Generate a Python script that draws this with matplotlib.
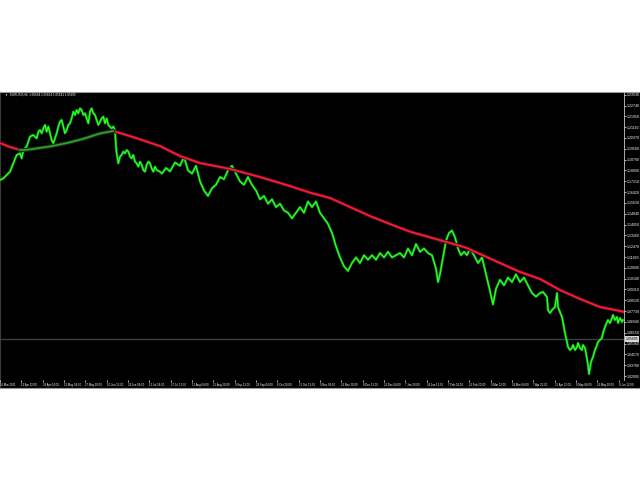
import numpy as np
import matplotlib
matplotlib.use("Agg")
from matplotlib import pyplot as plt
from matplotlib import transforms

# chart header (MT4 style)
header_text = "EURUSD,H4  1.05644 1.05654 1.05641 1.05695"
line_price = 1.05695  # horizontal price line + label box

# close prices (bar index, price)
price_bar = [0, 10, 20, 30, 40, 50, 60, 65, 70, 80, 90, 100, 110, 115, 120, 125, 130, 135, 140, 145,
             150, 155, 160, 165, 170, 175, 180, 185, 190, 195, 200, 205, 210, 215, 220, 225, 230, 235,
             240, 245, 250, 255, 260, 265, 270, 275, 280, 285, 290, 295, 300, 305, 310, 315, 320, 325,
             330, 335, 340, 345, 348, 350, 355, 360, 365, 370, 375, 380, 385, 390, 395, 400, 405, 410,
             415, 420, 425, 430, 435, 440, 445, 450, 455, 460, 465, 470, 480,
             486, 498, 510, 525, 540, 552, 564, 576, 588, 600, 612, 624, 636, 648, 660, 672, 684, 696,
             708, 720, 732, 744, 756, 768, 780, 792, 804, 816, 828, 840, 852, 864, 876, 888, 900, 912,
             924, 936, 948, 960, 972, 984, 996, 1008, 1020, 1032, 1044, 1056, 1068, 1080, 1092, 1104,
             1116, 1128, 1140, 1152, 1164, 1176, 1188, 1200, 1212, 1224, 1236, 1248, 1260, 1272, 1284,
             1296, 1308, 1314, 1320, 1329, 1338, 1347, 1356, 1365, 1374, 1383, 1392, 1401, 1410, 1422,
             1434, 1446, 1458, 1470, 1479, 1488, 1500, 1512, 1524, 1536, 1548, 1560, 1572, 1584, 1596,
             1608, 1620, 1629, 1641, 1644, 1650, 1656, 1665, 1668, 1671, 1674, 1680, 1686, 1689, 1695,
             1701, 1704, 1710, 1716, 1719, 1725, 1731, 1734, 1740, 1746, 1749, 1755, 1758, 1764, 1767,
             1773, 1779, 1785, 1791, 1794, 1800, 1806, 1809, 1815, 1821, 1824, 1830, 1836, 1839, 1845,
             1851, 1854, 1860, 1866, 1869]
price_close = [1.1730, 1.1742, 1.1767, 1.1791, 1.1852, 1.1913, 1.1925, 1.1888, 1.1949, 1.1974,
               1.2047, 1.2059, 1.2034, 1.2083, 1.2095, 1.2071, 1.2107, 1.2132, 1.2083, 1.2120,
               1.2071, 1.2022, 1.1998, 1.2034, 1.2071, 1.2120, 1.2156, 1.2168, 1.2120, 1.2071,
               1.2095, 1.2132, 1.2144, 1.2180, 1.2229, 1.2205, 1.2241, 1.2217, 1.2253, 1.2241,
               1.2205, 1.2217, 1.2180, 1.2144, 1.2229, 1.2253, 1.2217, 1.2205, 1.2168, 1.2132,
               1.2156, 1.2180, 1.2193, 1.2144, 1.2180, 1.2132, 1.2120, 1.2107, 1.2120, 1.2095,
               1.1974, 1.1925, 1.1852, 1.1901, 1.1913, 1.1937, 1.1925, 1.1949, 1.1937, 1.1901,
               1.1888, 1.1913, 1.1864, 1.1852, 1.1828, 1.1864, 1.1840, 1.1803, 1.1791, 1.1840,
               1.1864, 1.1852, 1.1815, 1.1791, 1.1828, 1.1803, 1.1791,
               1.1777, 1.1818, 1.1793, 1.1858, 1.1834, 1.1899, 1.1801, 1.1777, 1.1834, 1.1720,
               1.1654, 1.1614, 1.1671, 1.1695, 1.1752, 1.1736, 1.1801, 1.1834, 1.1777, 1.1720,
               1.1695, 1.1752, 1.1695, 1.1654, 1.1589, 1.1614, 1.1557, 1.1589, 1.1532, 1.1557,
               1.1508, 1.1491, 1.1450, 1.1491, 1.1532, 1.1491, 1.1573, 1.1532, 1.1573, 1.1491,
               1.1450, 1.1410, 1.1344, 1.1246, 1.1165, 1.1100, 1.1067, 1.1124, 1.1165, 1.1124,
               1.1181, 1.1148, 1.1181, 1.1148, 1.1197, 1.1165, 1.1206, 1.1165, 1.1181, 1.1197,
               1.1165, 1.1230, 1.1181, 1.1263, 1.1206, 1.1230, 1.1197, 1.1181, 1.1083, 1.0985,
               1.1042, 1.1165, 1.1287, 1.1344, 1.1361, 1.1312, 1.1230, 1.1181, 1.1206, 1.1181,
               1.1230, 1.1181, 1.1124, 1.1165, 1.1042, 1.0920, 1.0822, 1.0936, 1.1002, 1.0961,
               1.1018, 1.0985, 1.1042, 1.0985, 1.1018, 1.0961, 1.0904, 1.0879,
               1.0905, 1.0913, 1.0876, 1.0781, 1.0759, 1.0781, 1.0803, 1.0854, 1.0905, 1.0803,
               1.0767, 1.0730, 1.0694, 1.0613, 1.0548, 1.0511, 1.0489, 1.0504, 1.0526, 1.0489,
               1.0511, 1.0540, 1.0504, 1.0489, 1.0526, 1.0504, 1.0467, 1.0380, 1.0314, 1.0402,
               1.0438, 1.0489, 1.0526, 1.0548, 1.0562, 1.0577, 1.0613, 1.0657, 1.0694, 1.0708,
               1.0686, 1.0723, 1.0745, 1.0708, 1.0730, 1.0686, 1.0723, 1.0694, 1.0708]

# moving average (green while rising, red otherwise)
ma_bar = [0, 30, 60, 75, 99, 150, 201, 249, 300, 339, 399, 480, 540, 600, 690, 780, 870, 930, 990,
          1050, 1110, 1170, 1230, 1290, 1350, 1395, 1440, 1500, 1560, 1620, 1680, 1740, 1800, 1860, 1872]
ma_value = [1.2000, 1.1971, 1.1949, 1.1949, 1.1957, 1.1975, 1.2000, 1.2030, 1.2070, 1.2088,
            1.2044, 1.1978, 1.1905, 1.1854, 1.1811, 1.1752, 1.1686, 1.1638, 1.1599, 1.1533,
            1.1467, 1.1409, 1.1353, 1.1312, 1.1270, 1.1239, 1.1190, 1.1124, 1.1059, 1.1008,
            1.0927, 1.0862, 1.0803, 1.0774, 1.0767]
ma_rise_start = 60
ma_rise_end = 339

price_ticks = [1.0299, 1.0378, 1.0457, 1.0536, 1.0615, 1.0694, 1.0773, 1.0852, 1.0931, 1.1010,
               1.1089, 1.1168, 1.1247, 1.1326, 1.1405, 1.1484, 1.1563, 1.1642, 1.1721, 1.1800,
               1.1879, 1.1958, 1.2037, 1.2116, 1.2195, 1.2274, 1.2353]

date_labels = ["16 Mar 2021", "13 Apr 22:00", "28 Apr 04:00", "13 May 04:00", "27 May 20:00",
               "10 Jun 12:00", "24 Jun 04:00", "12 Jul 16:00", "27 Jul 12:00", "11 Aug 04:00",
               "25 Aug 20:00", "9 Sep 12:00", "24 Sep 04:00", "8 Oct 20:00", "25 Oct 12:00",
               "9 Nov 04:00", "23 Nov 20:00", "8 Dec 12:00", "23 Dec 04:00", "7 Jan 20:00",
               "24 Jan 12:00", "7 Feb 04:00", "22 Feb 20:00", "9 Mar 12:00", "24 Mar 04:00",
               "7 Apr 20:00", "25 Apr 12:00", "9 May 04:00", "23 May 20:00", "8 Jun 12:00"]
bars_per_label = 64

FONT = ["Liberation Sans", "DejaVu Sans"]


def main():
    W, H = 640, 480
    plt.rcParams["font.family"] = FONT
    fig = plt.figure(figsize=(6.4, 4.8), dpi=100)
    fig.patch.set_facecolor("white")

    # black chart window with thin border
    frame = fig.add_axes([0, 1 - 388 / H, 1, (388 - 92) / H])
    frame.set_facecolor("black")
    frame.set_xticks([])
    frame.set_yticks([])
    for side, sp in frame.spines.items():
        sp.set_color("#9a9a9a" if side in ("top", "bottom") else "#3a3a3a")
        sp.set_linewidth(0.8)

    ax = fig.add_axes([0, 1 - 380 / H, 624 / W, (380 - 92) / H])
    ax.patch.set_alpha(0)
    ax.set_xlim(0, 1872)
    ax.set_ylim(1.02702, 1.23726)
    for side in ("top", "left", "bottom"):
        ax.spines[side].set_visible(False)
    ax.spines["right"].set_color("#c8c8c8")
    ax.spines["right"].set_linewidth(0.6)

    # price line
    ax.axhline(line_price, color="#3b4046", lw=1.0, zorder=1)

    # price series
    ax.plot(price_bar, price_close, color="#0c8f0c", lw=1.8, zorder=2)
    ax.plot(price_bar, price_close, color="#2cff2c", lw=0.9, zorder=3)

    # moving average
    mb = np.array(ma_bar)
    mv = np.array(ma_value)
    rising = (mb >= ma_rise_start) & (mb <= ma_rise_end)
    left = mb <= ma_rise_start
    right = mb >= ma_rise_end
    ax.plot(mb, mv, color="#4a0838", lw=2.6, zorder=4)
    ax.plot(mb[left], mv[left], color="#ff1e1e", lw=1.3, zorder=5)
    ax.plot(mb[right], mv[right], color="#ff1e1e", lw=1.3, zorder=5)
    ax.plot(mb[rising], mv[rising], color="#0b3a0b", lw=2.6, zorder=5)
    ax.plot(mb[rising], mv[rising], color="#35a035", lw=1.2, zorder=6)

    # right price scale
    ax.yaxis.tick_right()
    ax.set_yticks(price_ticks)
    ax.set_yticklabels([f"{p:.5f}" for p in price_ticks])
    ax.tick_params(axis="y", colors="white", labelsize=2.5, length=1.5, width=0.5, pad=0.8)

    # time scale
    ax.set_xticks(np.arange(len(date_labels)) * bars_per_label)
    ax.set_xticklabels(date_labels, ha="left")
    ax.tick_params(axis="x", colors="white", labelsize=2.0, length=1.5, width=0.5, pad=0.8)

    # label box for the horizontal line
    trans = transforms.blended_transform_factory(ax.transAxes, ax.transData)
    ax.text(1.003, line_price, f"{line_price:.5f}", transform=trans, fontsize=2.5, color="black",
            va="center", ha="left", bbox=dict(facecolor="#d8d8d8", edgecolor="none", pad=0.4), zorder=7)

    # header
    fig.text(4 / W, 1 - 95 / H, "\u25bc", fontsize=2.0, color="white", va="center")
    fig.text(10 / W, 1 - 95 / H, header_text, fontsize=2.2, color="white", va="center")

    fig.savefig("out.png", dpi=100, facecolor="white")
    plt.close(fig)


if __name__ == "__main__":
    main()
